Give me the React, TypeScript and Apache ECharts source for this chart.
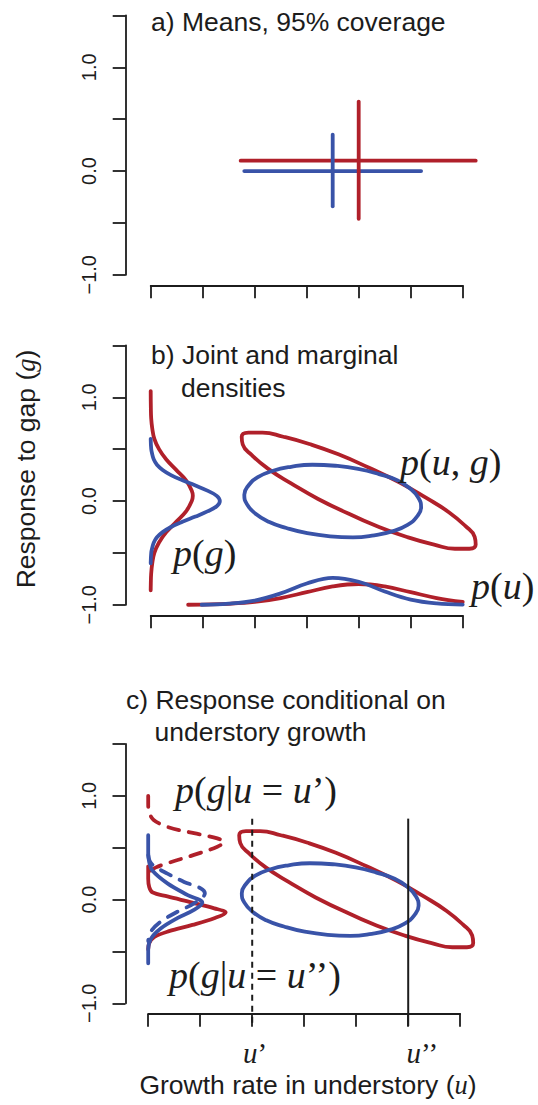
import React, { useEffect, useRef } from "react";
import * as echarts from "echarts";

const RED = "#B0202A";
const BLUE = "#3953A8";
const INK = "#1c1c1c";
const SANS = "Liberation Sans";
const SERIF = "Liberation Serif";

// ---------- Panel a: means with 95% coverage ----------
const redCrossU = [[1.73, 0.1], [6.25, 0.1]];
const redCrossG = [[4.0, 0.67], [4.0, -0.46]];
const blueCrossU = [[1.8, 0.0], [5.2, 0.0]];
const blueCrossG = [[3.5, 0.35], [3.5, -0.34]];

// ---------- Joint density contours (u, g) ----------
const redEllipse = [
  [3.8, -0.12], [3.22, 0.02], [2.7, 0.17], [2.26, 0.31], [1.95, 0.44], [1.77, 0.545],
  [1.75, 0.62], [1.88, 0.66], [2.15, 0.66], [2.55, 0.62], [3.05, 0.55], [3.61, 0.45],
  [4.2, 0.32], [4.78, 0.18], [5.3, 0.03], [5.74, -0.11], [6.05, -0.24], [6.23, -0.345],
  [6.25, -0.42], [6.13, -0.46], [5.85, -0.46], [5.45, -0.42], [4.95, -0.35], [4.39, -0.25],
  [3.8, -0.12],
];
const blueEllipse = [
  [3.45, -0.34], [3.01, -0.31], [2.61, -0.26], [2.27, -0.2], [2.01, -0.12], [1.85, -0.03],
  [1.8, 0.06], [1.88, 0.15], [2.06, 0.23], [2.34, 0.29], [2.7, 0.33], [3.11, 0.35],
  [3.55, 0.34], [3.99, 0.31], [4.39, 0.26], [4.74, 0.2], [4.99, 0.12], [5.15, 0.03],
  [5.2, -0.06], [5.12, -0.15], [4.94, -0.23], [4.66, -0.29], [4.3, -0.33], [3.89, -0.35],
  [3.45, -0.34],
];

// ---------- Marginal p(g): [density, g] ----------
const redPg = [
  [0.0, 1.06], [0.003, 0.9], [0.009, 0.8], [0.03, 0.7], [0.07, 0.6], [0.16, 0.5],
  [0.3, 0.4], [0.49, 0.3], [0.68, 0.2], [0.79, 0.1], [0.81, 0.05], [0.79, 0.0],
  [0.68, -0.1], [0.49, -0.2], [0.3, -0.3], [0.16, -0.4], [0.07, -0.5], [0.03, -0.6],
  [0.009, -0.7], [0.002, -0.8], [0.0, -0.86],
];
const bluePg = [
  [0.0, 0.6], [0.01, 0.5], [0.03, 0.45], [0.06, 0.4], [0.12, 0.35], [0.23, 0.3],
  [0.39, 0.25], [0.61, 0.2], [0.86, 0.15], [1.09, 0.1], [1.27, 0.05], [1.33, 0.0],
  [1.27, -0.05], [1.09, -0.1], [0.86, -0.15], [0.61, -0.2], [0.39, -0.25], [0.23, -0.3],
  [0.12, -0.35], [0.06, -0.4], [0.03, -0.45], [0.01, -0.5], [0.0, -0.6],
];

// ---------- Marginal p(u): [u, baseline + density] ----------
const redPu = [
  [0.72, -1.0], [1.0, -0.998], [1.5, -0.991], [2.0, -0.973], [2.5, -0.935], [3.0, -0.879],
  [3.5, -0.824], [4.0, -0.8], [4.5, -0.824], [5.0, -0.879], [5.5, -0.935], [6.0, -0.973],
];
const bluePu = [
  [0.98, -1.0], [1.5, -0.99], [2.0, -0.96], [2.5, -0.89], [3.0, -0.795], [3.5, -0.74],
  [4.0, -0.778], [4.5, -0.872], [5.0, -0.95], [5.5, -0.987], [6.0, -0.998],
];

// ---------- Conditional p(g | u): [density, g] ----------
const redCondPrime = [
  [0.0, 1.0], [0.0, 0.92], [0.02, 0.84], [0.1, 0.77], [0.37, 0.7], [0.88, 0.64],
  [1.33, 0.59], [1.46, 0.555], [1.33, 0.51], [0.88, 0.43], [0.43, 0.36], [0.15, 0.31],
  [0.03, 0.27],
];
const redCondDouble = [
  [0.0, 0.32], [0.0, 0.2], [0.02, 0.12], [0.08, 0.07], [0.37, 0.03], [0.85, -0.03],
  [1.27, -0.085], [1.49, -0.125], [1.27, -0.18], [0.85, -0.245], [0.4, -0.305],
  [0.12, -0.36], [0.02, -0.42], [0.0, -0.48],
];
const blueCondPrime = [
  [0.0, 0.43], [0.03, 0.37], [0.12, 0.32], [0.37, 0.25], [0.69, 0.17], [1.01, 0.108],
  [1.09, 0.06], [0.88, -0.037], [0.56, -0.118], [0.24, -0.214], [0.05, -0.31], [0.0, -0.4],
];
const blueCondDouble = [
  [0.0, 0.62], [0.0, 0.45], [0.02, 0.36], [0.08, 0.28], [0.37, 0.156], [0.76, 0.043],
  [1.04, -0.03], [0.88, -0.1], [0.56, -0.18], [0.24, -0.28], [0.05, -0.38], [0.0, -0.48],
  [0.0, -0.615],
];

// conditioning values
const uPrime = 2;
const uDoublePrime = 5;
const condLineTop = 0.78;
const condLineBottom = -1.22;

// axis ticks
const xTicks = { min: 0, max: 6, interval: 1 };
const yTicks = { min: -1, max: 1.5, interval: 0.5 };
const yTickLabels: Record<string, string> = { "-1": "\u22121.0", "0": "0.0", "1": "1.0" };
// wider hidden data range (so marks beyond the last tick are not cut)
const dataXRange = { min: -0.5, max: 6.5 };

const UNIT_X = 52;
const PLOT_H = 259.3;
const panelLayout = [
  { left: 150.7, top: 15.45, yOffset: 25 },
  { left: 150.7, top: 345.45, yOffset: 25 },
  { left: 148.2, top: 743.95, yOffset: 22.7 },
];

function seg(data: number[][], color: string, panel: number, opts: any = {}) {
  return {
    type: "line",
    xAxisIndex: 3 + panel,
    yAxisIndex: 3 + panel,
    data,
    showSymbol: false,
    symbol: "none",
    smooth: opts.smooth ?? false,
    clip: false,
    silent: true,
    z: opts.z ?? 2,
    lineStyle: {
      color,
      width: opts.width ?? 3.8,
      type: opts.type ?? "solid",
      cap: opts.cap ?? "round",
      join: "round",
    },
  };
}

function mathText(parts: [string, boolean][], size: number) {
  const text = parts.map(([t, it]) => `{${it ? "i" : "n"}|${t}}`).join("");
  return {
    text,
    rich: {
      i: { fontFamily: SERIF, fontStyle: "italic", fontSize: size, fill: INK, color: INK },
      n: { fontFamily: SERIF, fontSize: size, fill: INK, color: INK },
    },
  };
}

function label(x: number, y: number, text: string, size = 26.5, align = "left") {
  return {
    type: "text",
    x,
    y,
    z: 10,
    style: {
      text,
      fontFamily: SANS,
      fontSize: size,
      fill: INK,
      align,
      verticalAlign: "middle",
      textAlign: align,
      textVerticalAlign: "middle",
    },
  };
}

function mathLabel(x: number, y: number, parts: [string, boolean][], size: number) {
  return {
    type: "text",
    x,
    y,
    z: 10,
    style: {
      ...mathText(parts, size),
      align: "left",
      verticalAlign: "middle",
      textAlign: "left",
      textVerticalAlign: "middle",
    },
  };
}

export default function App() {
  const ref = useRef<HTMLDivElement>(null);

  useEffect(() => {
    document.body.style.margin = "0";
    if (!ref.current) return;
    const chart = echarts.init(ref.current, null, { renderer: "svg" });

    const axisGrids = panelLayout.map((p) => ({ left: p.left, top: p.top, width: 6 * UNIT_X, height: PLOT_H }));
    const dataGrids = panelLayout.map((p) => ({
      left: p.left + dataXRange.min * UNIT_X,
      top: p.top,
      width: (dataXRange.max - dataXRange.min) * UNIT_X,
      height: PLOT_H,
    }));
    const axisLineStyle = { color: INK, width: 1.8 };
    const xAxes: any[] = panelLayout.map((_, i) => ({
      gridIndex: i,
      type: "value",
      ...xTicks,
      offset: 10.5,
      axisLine: { show: true, onZero: false, lineStyle: axisLineStyle },
      axisTick: { show: true, length: 13, lineStyle: axisLineStyle },
      axisLabel: { show: false },
      splitLine: { show: false },
    }));
    const yAxes: any[] = panelLayout.map((p, i) => ({
      gridIndex: i,
      type: "value",
      ...yTicks,
      offset: p.yOffset,
      axisLine: { show: true, onZero: false, lineStyle: axisLineStyle },
      axisTick: { show: true, length: 13, lineStyle: axisLineStyle },
      axisLabel: {
        rotate: 90,
        margin: 27,
        fontSize: 20,
        fontFamily: SANS,
        color: INK,
        formatter: (v: number) => yTickLabels[String(Math.round(v * 10) / 10)] ?? "",
      },
      splitLine: { show: false },
    }));
    panelLayout.forEach((_, i) => {
      xAxes.push({ gridIndex: 3 + i, type: "value", ...dataXRange, show: false });
      yAxes.push({ gridIndex: 3 + i, type: "value", min: yTicks.min, max: yTicks.max, show: false });
    });

    const series: any[] = [
      // panel a
      seg(redCrossU, RED, 0),
      seg(blueCrossU, BLUE, 0),
      seg(blueCrossG, BLUE, 0),
      seg(redCrossG, RED, 0),
      // panel b
      seg(redEllipse, RED, 1, { smooth: 0.5 }),
      seg(blueEllipse, BLUE, 1, { smooth: 0.5 }),
      seg(redPg, RED, 1, { smooth: 0.4 }),
      seg(bluePg, BLUE, 1, { smooth: 0.4 }),
      seg(redPu, RED, 1, { smooth: 0.4 }),
      seg(bluePu, BLUE, 1, { smooth: 0.4 }),
      // panel c
      seg(redEllipse, RED, 2, { smooth: 0.5 }),
      seg(blueEllipse, BLUE, 2, { smooth: 0.5 }),
      seg(redCondPrime, RED, 2, { smooth: 0.35, type: [11, 10] }),
      seg(redCondDouble, RED, 2, { smooth: 0.35 }),
      seg(blueCondPrime, BLUE, 2, { smooth: 0.35, type: [11, 10] }),
      seg(blueCondDouble, BLUE, 2, { smooth: 0.35 }),
      seg([[uPrime, condLineTop], [uPrime, condLineBottom]], INK, 2, { width: 2, type: [6, 5], cap: "butt", z: 3 }),
      seg([[uDoublePrime, condLineTop], [uDoublePrime, condLineBottom]], INK, 2, { width: 2, cap: "butt", z: 3 }),
    ];

    const graphic: any[] = [
      label(151, 21.5, "a) Means, 95% coverage"),
      label(151, 355, "b) Joint and marginal"),
      label(181, 388, "densities"),
      label(126, 699.5, "c) Response conditional on"),
      label(154.5, 731.5, "understory growth"),
      mathLabel(400, 462, [["p", true], ["(", false], ["u", true], [", ", false], ["g", true], [")", false]], 38),
      mathLabel(173, 553, [["p", true], ["(", false], ["g", true], [")", false]], 38),
      mathLabel(471, 586, [["p", true], ["(", false], ["u", true], [")", false]], 38),
      mathLabel(175, 790, [["p", true], ["(", false], ["g", true], ["|", false], ["u", true], [" = ", false], ["u", true], ["\u2019)", false]], 38),
      mathLabel(169, 975, [["p", true], ["(", false], ["g", true], ["|", false], ["u", true], [" = ", false], ["u", true], ["\u2019\u2019)", false]], 38),
      mathLabel(243, 1053, [["u", true], ["\u2019", false]], 29),
      mathLabel(406.5, 1053, [["u", true], ["\u2019\u2019", false]], 29),
      {
        type: "text",
        x: 26,
        y: 469,
        rotation: Math.PI / 2,
        z: 10,
        style: {
          text: "{s|Response to gap (}{i|g}{s|)}",
          rich: {
            s: { fontFamily: SANS, fontSize: 26.5, fill: INK, color: INK },
            i: { fontFamily: SERIF, fontStyle: "italic", fontSize: 26.5, fill: INK, color: INK },
          },
          align: "center",
          verticalAlign: "middle",
          textAlign: "center",
          textVerticalAlign: "middle",
        },
      },
      {
        type: "text",
        x: 308,
        y: 1085,
        z: 10,
        style: {
          text: "{s|Growth rate in understory (}{i|u}{s|)}",
          rich: {
            s: { fontFamily: SANS, fontSize: 26.5, fill: INK, color: INK },
            i: { fontFamily: SERIF, fontStyle: "italic", fontSize: 26.5, fill: INK, color: INK },
          },
          align: "center",
          verticalAlign: "middle",
          textAlign: "center",
          textVerticalAlign: "middle",
        },
      },
    ];

    chart.setOption({
      animation: false,
      backgroundColor: "#ffffff",
      grid: [...axisGrids, ...dataGrids],
      xAxis: xAxes,
      yAxis: yAxes,
      series,
      graphic,
    });

    return () => chart.dispose();
  }, []);

  return (
    <div
      ref={ref}
      style={{ position: "absolute", left: 0, top: 0, width: 538, height: 1105 }}
    />
  );
}
